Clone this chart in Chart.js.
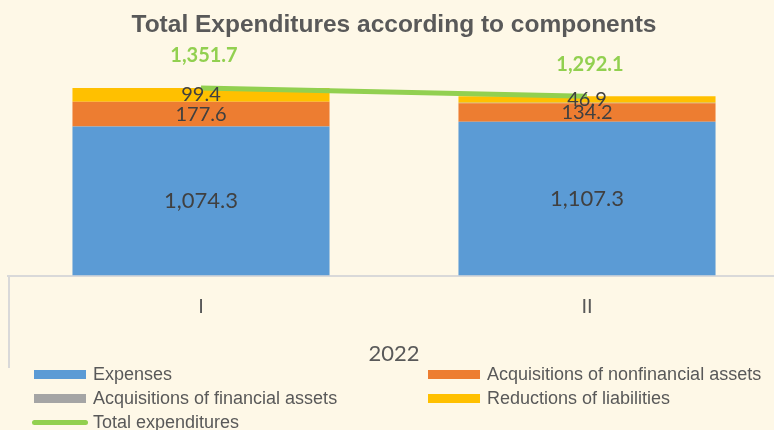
<!DOCTYPE html>
<html lang="en">
<head>
<meta charset="UTF-8">
<title>Total Expenditures according to components</title>
<script src="https://cdn.jsdelivr.net/npm/chart.js@4.4.1/dist/chart.umd.min.js"></script>
<style>
  html, body { margin: 0; padding: 0; background: #FEF8E7; }
  #contenedor { position: relative; width: 774px; height: 430px; overflow: hidden; }
  #leyenda { position: absolute; left: 0; top: 0; width: 774px; height: 430px; pointer-events: none; }
  .item { position: absolute; height: 20px; display: flex; align-items: center; white-space: nowrap;
          font: 18px "Liberation Sans", Arial, sans-serif; color: #595959; }
  .marca { width: 52px; height: 9px; margin-right: 7px; }
  .marca.linea { width: 56px; height: 5px; border-radius: 3px; margin-left: -2px; margin-right: 5px; }
</style>
</head>
<body>
<div id="contenedor">
  <canvas id="myChart" width="780" height="430"></canvas>
  <div id="leyenda"></div>
</div>
<script>
// Datos del grafico
const quarters = ['I', 'II'];
const yearLabels = ['2022'];
const expenses = [1074.3, 1107.3];
const nonfinancialAssets = [177.6, 134.2];
const financialAssets = [0.4, 3.7];
const liabilities = [99.4, 46.9];
const totalExpenditures = [1351.7, 1292.1];
const seriesNames = [
    'Expenses',
    'Acquisitions of nonfinancial assets',
    'Acquisitions of financial assets',
    'Reductions of liabilities',
    'Total expenditures'
];

const canvas = document.getElementById('myChart');
const leyendaDiv = document.getElementById('leyenda');

const formato = v => v.toLocaleString('en-US', { minimumFractionDigits: 1, maximumFractionDigits: 1 });

// Etiquetas de datos (Chart.js no las trae de serie)
const etiquetasPlugin = {
    id: 'etiquetas',
    afterDatasetsDraw(chart) {
        const ctx = chart.ctx;
        ctx.save();
        ctx.textAlign = 'center';
        ctx.textBaseline = 'middle';
        chart.data.datasets.forEach((ds, i) => {
            const et = ds.etiqueta;
            if (!et) return;
            const meta = chart.getDatasetMeta(i);
            meta.data.forEach((el, j) => {
                ctx.font = `${et.weight || 'normal'} ${et.size}px Lato, "Open Sans", sans-serif`;
                ctx.fillStyle = et.color;
                let y;
                if (ds.type === 'line') {
                    y = el.y - 32;
                } else {
                    y = (el.y + el.base) / 2;
                }
                ctx.fillText(formato(ds.data[j]), el.x + (et.dx || 0), y);
            });
        });
        ctx.restore();
    }
};

// Linea vertical a la izquierda del eje de categorias
const bordeEjePlugin = {
    id: 'bordeEje',
    afterDraw(chart) {
        const { x, x2 } = chart.scales;
        const ctx = chart.ctx;
        ctx.save();
        ctx.strokeStyle = '#D9D9D9';
        ctx.lineWidth = 2;
        ctx.beginPath();
        ctx.moveTo(x.left + 1, x.top);
        ctx.lineTo(x.left + 1, x2.bottom - 2);
        ctx.stroke();
        ctx.restore();
    }
};

// Leyenda en HTML, dos columnas
const leyendaPlugin = {
    id: 'leyendaHtml',
    afterUpdate(chart) {
        leyendaDiv.innerHTML = '';
        const columnas = [34, 428];
        chart.data.datasets.forEach((ds, i) => {
            const item = document.createElement('div');
            item.className = 'item';
            item.style.left = columnas[i % 2] + 'px';
            item.style.top = (364 + Math.floor(i / 2) * 24) + 'px';
            const marca = document.createElement('span');
            marca.className = ds.type === 'line' ? 'marca linea' : 'marca';
            marca.style.background = ds.type === 'line' ? ds.borderColor : ds.backgroundColor;
            const texto = document.createElement('span');
            texto.textContent = ds.label;
            item.appendChild(marca);
            item.appendChild(texto);
            leyendaDiv.appendChild(item);
        });
    }
};

const etiquetaBarra = { size: 20, color: '#404040' };

const myChart = new Chart(canvas, {
    data: {
        labels: quarters,
        datasets: [
            {
                type: 'bar', label: seriesNames[0], data: expenses,
                backgroundColor: '#5B9BD5', stack: 'componentes', order: 1,
                etiqueta: { size: 22, color: '#404040' }
            },
            {
                type: 'bar', label: seriesNames[1], data: nonfinancialAssets,
                backgroundColor: '#ED7D31', stack: 'componentes', order: 1,
                etiqueta: etiquetaBarra
            },
            {
                type: 'bar', label: seriesNames[2], data: financialAssets,
                backgroundColor: '#A5A5A5', stack: 'componentes', order: 1
            },
            {
                type: 'bar', label: seriesNames[3], data: liabilities,
                backgroundColor: '#FFC000', stack: 'componentes', order: 1,
                etiqueta: etiquetaBarra
            },
            {
                type: 'line', label: seriesNames[4], data: totalExpenditures,
                borderColor: '#92D050', backgroundColor: '#92D050', borderWidth: 5,
                pointRadius: 0, stack: 'total', order: 0,
                etiqueta: { size: 20, color: '#92D050', weight: 'bold', dx: 3 }
            }
        ]
    },
    options: {
        responsive: false,
        animation: false,
        layout: { padding: { left: 8, right: 0, top: 0, bottom: 60 } },
        datasets: { bar: { categoryPercentage: 1, barPercentage: 0.666 } },
        plugins: {
            legend: { display: false },
            tooltip: { enabled: false },
            title: {
                display: true,
                text: 'Total Expenditures according to components',
                color: '#595959',
                font: { family: '"Liberation Sans", Arial, sans-serif', size: 24.5, weight: 'bold' },
                padding: { top: 11, bottom: 13 }
            }
        },
        scales: {
            x: {
                stacked: true,
                offset: true,
                grid: { display: false, drawTicks: false },
                border: { display: true, color: '#D9D9D9', width: 2 },
                ticks: { color: '#595959', font: { family: 'Lato', size: 20 }, padding: 19 }
            },
            x2: {
                type: 'category',
                labels: yearLabels,
                position: 'bottom',
                weight: 1,
                offset: true,
                grid: { display: false, drawTicks: false },
                border: { display: false },
                ticks: { color: '#595959', font: { family: 'Lato', size: 22 }, padding: 3 }
            },
            y: { stacked: true, display: false, min: 0, max: 1600 }
        }
    },
    plugins: [etiquetasPlugin, bordeEjePlugin, leyendaPlugin]
});
</script>
</body>
</html>
